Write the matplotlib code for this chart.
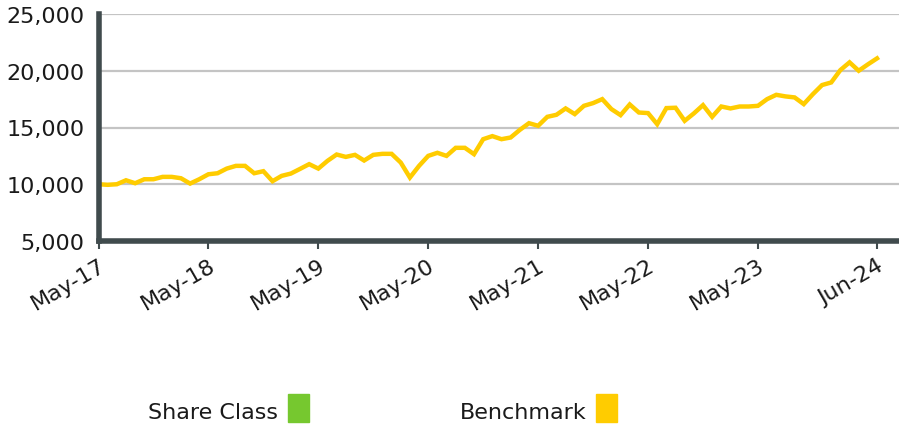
import matplotlib
matplotlib.use("Agg")
import matplotlib.pyplot as plt
from matplotlib.patches import Rectangle
import numpy as np

# Growth of 10,000 - monthly values, May-17 to Jun-24
benchmark = [
    10000, 9950, 10000, 10350, 10090, 10440, 10440, 10650, 10650, 10530,
    10060, 10440, 10880, 10970, 11380, 11620, 11620, 10970, 11150, 10270,
    10740, 10940, 11350, 11770, 11380, 12060, 12620, 12410, 12590, 12090,
    12590, 12680, 12680, 11910, 10590, 11620, 12500, 12770, 12500, 13210,
    13210, 12650, 13970, 14240, 13970, 14120, 14790, 15380, 15150, 15940,
    16120, 16680, 16180, 16910, 17150, 17500, 16620, 16090, 17030, 16320,
    16270, 15290, 16710, 16740, 15590, 16240, 16970, 15940, 16850, 16680,
    16850, 16850, 16910, 17500, 17880, 17740, 17650, 17060, 17940, 18740,
    18970, 20060, 20740, 20000, 20560, 21090,
]
tick_pos = [0, 12, 24, 36, 48, 60, 72, 85]
tick_labels = ["May-17", "May-18", "May-19", "May-20", "May-21", "May-22", "May-23", "Jun-24"]
y_ticks = [5000, 10000, 15000, 20000, 25000]

legend_names = ["Share Class", "Benchmark"]
legend_colors = ["#76c82f", "#ffcc00"]

spine_col = "#404b4d"

fig = plt.figure(figsize=(8.99, 4.27), dpi=100)
ax = fig.add_axes([98.5 / 899, 185 / 427, 1 - 98.5 / 899, 227 / 427])

months = np.arange(len(benchmark))
ax.plot(months, benchmark, color="#ffcc00", lw=3.2, solid_joinstyle="miter", zorder=3)

ax.set_xlim(0, 87.4)
ax.set_ylim(5000, 25000)
ax.set_yticks(y_ticks)
ax.set_yticklabels([f"{v:,}" for v in y_ticks], fontsize=16, color="#1a1a1a")
ax.set_xticks(tick_pos)
ax.set_xticklabels(tick_labels, fontsize=16, rotation=30, ha="right",
                   rotation_mode="anchor", color="#1a1a1a")

ax.grid(axis="y", color="#c4c4c4", lw=1.6, zorder=1)
ax.set_axisbelow(True)

for s in ["top", "right"]:
    ax.spines[s].set_visible(False)
for s in ["left", "bottom"]:
    ax.spines[s].set_color(spine_col)
    ax.spines[s].set_linewidth(4)
    ax.spines[s].set_zorder(4)

ax.tick_params(axis="y", length=0, pad=10)
ax.tick_params(axis="x", length=6, width=1.5, color=spine_col, pad=4, direction="out")

# legend below the chart
fig.text(148 / 899, 1 - 413 / 427, legend_names[0], fontsize=16, va="center", ha="left", color="#1a1a1a")
fig.text(460 / 899, 1 - 413 / 427, legend_names[1], fontsize=16, va="center", ha="left", color="#1a1a1a")
for x0, c in zip([288, 596], legend_colors):
    fig.add_artist(Rectangle((x0 / 899, 1 - 423 / 427), 21 / 899, 28 / 427,
                             transform=fig.transFigure, color=c))

fig.savefig("out.png", dpi=100)
